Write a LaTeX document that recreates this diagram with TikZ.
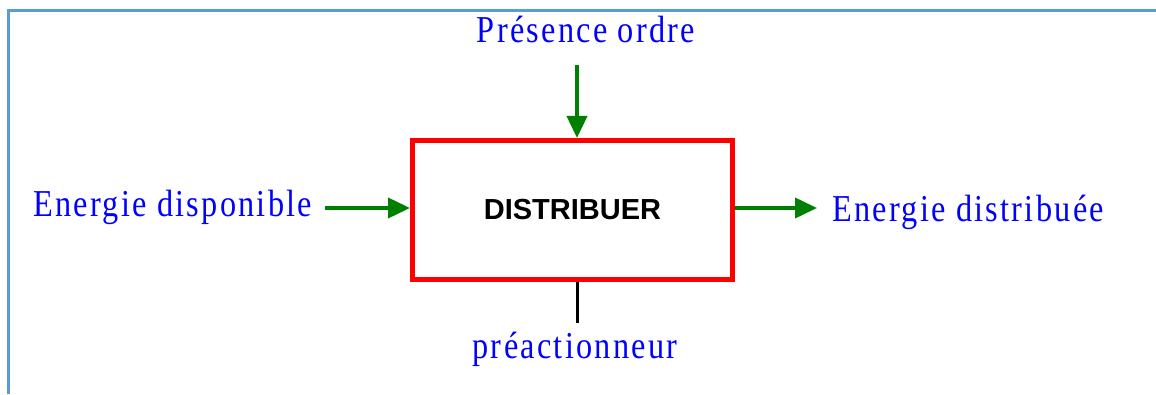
\documentclass[tikz,border=0pt]{standalone}
\usepackage{fontspec}
\setmainfont{Liberation Serif}
\newfontfamily\labelfont[FakeStretch=0.85,LetterSpace=6]{Liberation Serif}
\newfontfamily\boxfont{Liberation Sans}
\usetikzlibrary{arrows.meta}
\definecolor{flowgreen}{RGB}{0,128,0}
\definecolor{labelblue}{RGB}{0,0,255}
\definecolor{framecol}{RGB}{91,155,213}
\definecolor{boxred}{RGB}{255,0,0}
\tikzset{
  lbl/.style={text=labelblue, inner sep=0pt, font=\labelfont\fontsize{38}{40}\selectfont},
  funcbox/.style={draw=boxred, line width=5pt, minimum width=320pt, minimum height=139pt,
    inner sep=0pt, font=\boxfont\bfseries\fontsize{29}{32}\selectfont},
  flow/.style={draw=flowgreen, line width=3.8pt, -{Triangle[length=22pt,width=20pt]}},
  support/.style={draw=black, line width=3pt},
  frameline/.style={draw=framecol, line width=3pt}
}
\begin{document}
\begin{tikzpicture}[x=1pt,y=1pt]
\useasboundingbox (0,0) rectangle (1156,394);
% outer frame (top and left edges)
\draw[frameline] (8,0) -- (8,383) -- (1156,383);
% function box
\node[funcbox] (box) at (572.5,184) {DISTRIBUER};
% labels
\node[lbl, anchor=base west] (ein) at (33,177) {Energie disponible};
\node[lbl, anchor=base west] (eout) at (832,172) {Energie distribuée};
\node[lbl, anchor=base] (ordre) at (586,351) {Présence ordre};
\node[lbl, anchor=base] (preact) at (575,36) {préactionneur};
% connector ends
\coordinate (inA) at (325,186);
\coordinate (outB) at (817,186);
\coordinate (topA) at (577,329);
\coordinate (botB) at (577,71);
% connectors
\draw[flow] (inA) -- (inA -| box.west);
\draw[flow] (outB -| box.east) -- (outB);
\draw[flow] (topA) -- (topA |- box.north);
\draw[support] (botB |- box.south) -- (botB);
\end{tikzpicture}
\end{document}
